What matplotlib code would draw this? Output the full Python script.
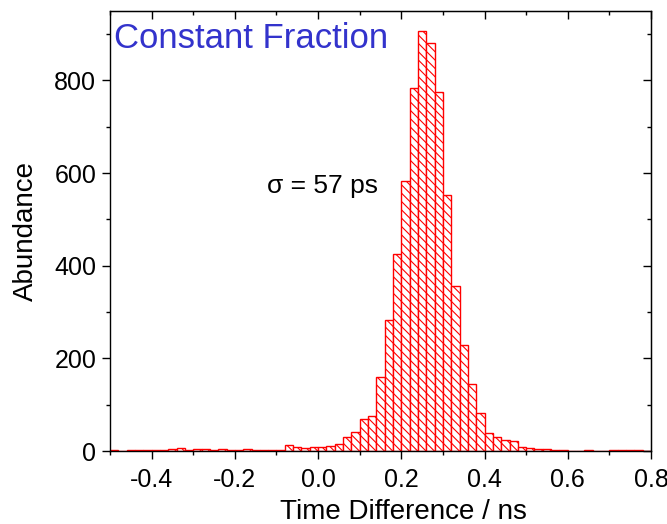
import matplotlib
matplotlib.use("Agg")
import matplotlib.pyplot as plt
import numpy as np
from matplotlib.ticker import MultipleLocator

plt.rcParams['font.family'] = ['Liberation Sans', 'DejaVu Sans']
plt.rcParams['hatch.linewidth'] = 0.8

# bin left edges (ns), bin width 0.02 ns
bin_width = 0.02
bin_left = np.round(np.arange(-0.50, 0.79, 0.02), 2)
counts = [2, 1, 2, 3, 2, 2, 2, 4, 6, 2,
          5, 5, 2, 4, 2, 3, 4, 3, 2, 2,
          2, 13, 9, 7, 8, 9, 10, 16, 30, 40,
          70, 75, 160, 283, 425, 583, 784, 907, 880, 776,
          552, 357, 228, 144, 83, 39, 31, 24, 21, 9,
          6, 4, 4, 2, 3, 1, 1, 2, 1, 1,
          2, 2, 3, 2, 1]

title_text = "Constant Fraction"
sigma_text = "\u03c3 = 57 ps"
x_ticks = [-0.4, -0.2, 0.0, 0.2, 0.4, 0.6, 0.8]
y_ticks = [0, 200, 400, 600, 800]

fig = plt.figure(figsize=(6.67, 5.24), dpi=100)
ax = fig.add_axes([0.165, 0.1393, 0.811, 0.8397])

ax.bar(bin_left, counts, width=bin_width, align='edge', facecolor='white',
       edgecolor='red', linewidth=1.0, hatch='\\\\\\\\')

ax.set_xlim(-0.5, 0.8)
ax.set_ylim(0, 950)

ax.set_xticks(x_ticks)
ax.set_xticklabels([f"{v:.1f}" for v in x_ticks])
ax.xaxis.set_minor_locator(MultipleLocator(0.1))
ax.set_yticks(y_ticks)
ax.yaxis.set_minor_locator(MultipleLocator(100))

ax.tick_params(axis='both', which='major', direction='out', length=6, width=1.0,
               labelsize=18)
ax.tick_params(axis='x', which='major', pad=6)
ax.tick_params(axis='y', which='major', pad=4)
ax.tick_params(axis='both', which='minor', direction='out', length=3, width=1.0)

for s in ax.spines.values():
    s.set_linewidth(1.0)

# top and right ticks pointing inward, no labels
secx = ax.secondary_xaxis('top')
secx.set_xticks(x_ticks)
secx.xaxis.set_minor_locator(MultipleLocator(0.1))
secx.tick_params(which='major', direction='in', length=6, width=1.0, labeltop=False)
secx.tick_params(which='minor', direction='in', length=3, width=1.0)
secy = ax.secondary_yaxis('right')
secy.set_yticks(y_ticks)
secy.yaxis.set_minor_locator(MultipleLocator(100))
secy.tick_params(which='major', direction='in', length=6, width=1.0, labelright=False)
secy.tick_params(which='minor', direction='in', length=3, width=1.0)

ax.set_xlabel("Time Difference / ns", fontsize=20)
ax.xaxis.set_label_coords(0.543, -0.139)
ax.xaxis.label.set_va('center')
ax.set_ylabel("Abundance", fontsize=20, labelpad=11)

ax.text(0.008, 0.975, title_text, transform=ax.transAxes, fontsize=25,
        color='#3333CC', ha='left', va='top')
ax.text(0.01, 573, sigma_text, fontsize=19, ha='center', va='center')

fig.savefig("out.png", dpi=100)
